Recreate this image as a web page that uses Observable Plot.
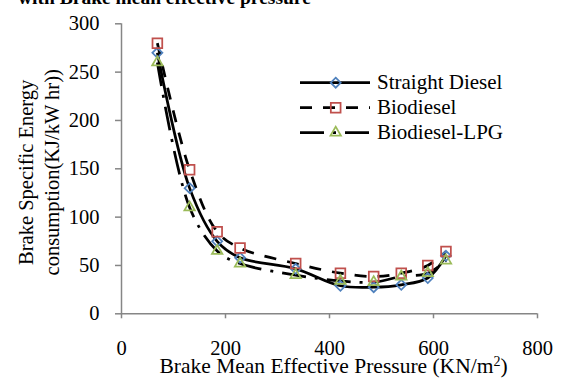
<!DOCTYPE html>
<html><head><meta charset="utf-8">
<script src="https://cdn.jsdelivr.net/npm/d3@7"></script>
<script src="https://cdn.jsdelivr.net/npm/@observablehq/plot@0.6"></script>
<style>
body{margin:0;background:#fff;}
#wrap{width:562px;height:378px;position:relative;overflow:hidden;font-family:"Liberation Serif","Times New Roman",serif;background:#fff;}
#title{height:9px;overflow:hidden;position:relative;}
#title span{position:absolute;left:18px;top:-12.3px;font-weight:bold;font-size:19.5px;line-height:1;white-space:nowrap;color:#000;}
#chart svg{display:block}
</style></head><body>
<div id="wrap"><div id="title"><span>with Brake mean effective pressure</span></div><div id="chart"></div></div>
<script>
// ---- data ----
const bmep = [69, 131, 184, 228, 335, 421, 485, 538, 589, 624];
const straightDiesel = [270, 130, 75, 58, 46.5, 29, 27.5, 30, 37, 60];
const biodiesel = [280, 149, 85, 68, 52, 42, 38.6, 42, 50, 64.5];
const biodieselLPG = [260, 110, 65, 52, 40, 34, 32.7, 38.6, 42, 55];
const seriesNames = ["Straight Diesel", "Biodiesel", "Biodiesel-LPG"];
const xTicks = [0, 200, 400, 600, 800];
const yTicks = [0, 50, 100, 150, 200, 250, 300];
const xLabelText = "Brake Mean Effective Pressure (KN/m";
const yLabelLines = ["Brake Specific Energy", "consumption(KJ/kW hr))"];

// ---- styles ----
const seriesStyle = {
  "Straight Diesel": {dash: null, symbol: "diamond2", d3sym: d3.symbolDiamond2, color: "#4F81BD", r: 4.5},
  "Biodiesel": {dash: "12,11", symbol: "square2", d3sym: d3.symbolSquare2, color: "#C0504D", r: 6.2},
  "Biodiesel-LPG": {dash: "24,9,3,9", symbol: "triangle2", d3sym: d3.symbolTriangle2, color: "#9BBB59", r: 5}
};
const axisGrey = "#868686";
const serif = "Liberation Serif, Times New Roman, serif";

const values = [straightDiesel, biodiesel, biodieselLPG];
const rows = [];
seriesNames.forEach((name, i) => bmep.forEach((x, j) => rows.push({series: name, x, y: values[i][j]})));

const lineMarks = seriesNames.map(name => Plot.line(rows.filter(d => d.series === name), {
  x: "x", y: "y", curve: "catmull-rom", stroke: "#000", strokeWidth: 2.75,
  strokeDasharray: seriesStyle[name].dash || undefined, strokeLinecap: "butt"
}));
const dotMarks = seriesNames.map(name => Plot.dot(rows.filter(d => d.series === name), {
  x: "x", y: "y", symbol: () => seriesStyle[name].symbol, r: seriesStyle[name].r,
  stroke: seriesStyle[name].color, strokeWidth: 1.75, fill: "none"
}));

const plot = Plot.plot({
  width: 562, height: 369,
  marginLeft: 121, marginRight: 25, marginTop: 14.3, marginBottom: 64.7,
  style: {fontFamily: serif, fontSize: "20.5px", color: "#000", background: "#fff"},
  x: {domain: [0, 800], ticks: xTicks, tickSize: 5, tickPadding: 22, label: null, tickFormat: d => String(d)},
  y: {domain: [0, 300], ticks: yTicks, tickSize: 6, tickPadding: 16, label: null, tickFormat: d => String(d)},
  symbol: {type: "identity"},
  marks: [
    Plot.ruleY([0], {stroke: axisGrey, strokeWidth: 1.5}),
    Plot.ruleX([0], {stroke: axisGrey, strokeWidth: 1.5}),
    ...lineMarks,
    ...dotMarks
  ]
});
document.getElementById("chart").appendChild(plot);

const svg = d3.select(plot);
svg.selectAll('[aria-label^="x-axis"], [aria-label^="y-axis"]').attr("stroke", null);
svg.selectAll('[aria-label^="x-axis"] line, [aria-label^="x-axis"] path, [aria-label^="y-axis"] line, [aria-label^="y-axis"] path')
  .attr("stroke", axisGrey).attr("stroke-width", 1.5);
svg.selectAll('[aria-label^="x-axis"] text, [aria-label^="y-axis"] text').attr("fill", "#000").attr("font-size", 20.5);

const xs = plot.scale("x"), ys = plot.scale("y");
const x0 = xs.range[0], x1 = xs.range[1];
const yTop = ys.range[1], yBot = ys.range[0];

// x axis title
const xt = svg.append("text").attr("x", (x0 + x1) / 2 + 4.5).attr("y", yBot + 59.7)
  .attr("text-anchor", "middle").attr("font-size", 21.5).attr("fill", "#000")
  .attr("font-family", serif);
xt.append("tspan").text(xLabelText);
xt.append("tspan").attr("dy", -7).attr("font-size", 14).text("2");
xt.append("tspan").attr("dy", 7).text(")");

// y axis title (two lines, rotated)
const yc = (yTop + yBot) / 2 + 4;
const yg = svg.append("g").attr("transform", `translate(0,${yc}) rotate(-90)`)
  .attr("font-size", 20.5).attr("fill", "#000").attr("text-anchor", "middle")
  .attr("font-family", serif);
yg.append("text").attr("x", 0).attr("y", 32.5).text(yLabelLines[0]);
yg.append("text").attr("x", 0).attr("y", 58.5).text(yLabelLines[1]);

// legend
const lg = svg.append("g").attr("font-family", serif).attr("font-size", 21).attr("text-anchor", "start");
seriesNames.forEach((name, i) => {
  const st = seriesStyle[name];
  const ly = 73.7 + i * 25;
  lg.append("line").attr("x1", 300).attr("x2", 370).attr("y1", ly).attr("y2", ly)
    .attr("stroke", "#000").attr("stroke-width", 2.75).attr("stroke-dasharray", st.dash);
  lg.append("path").attr("d", d3.symbol(st.d3sym, Math.PI * st.r * st.r)())
    .attr("transform", `translate(335.7,${ly})`).attr("fill", "none")
    .attr("stroke", st.color).attr("stroke-width", 1.75);
  lg.append("text").attr("x", 377).attr("y", ly + 6.5).attr("fill", "#000").attr("text-anchor", "start").text(name);
});
</script>
</body></html>
